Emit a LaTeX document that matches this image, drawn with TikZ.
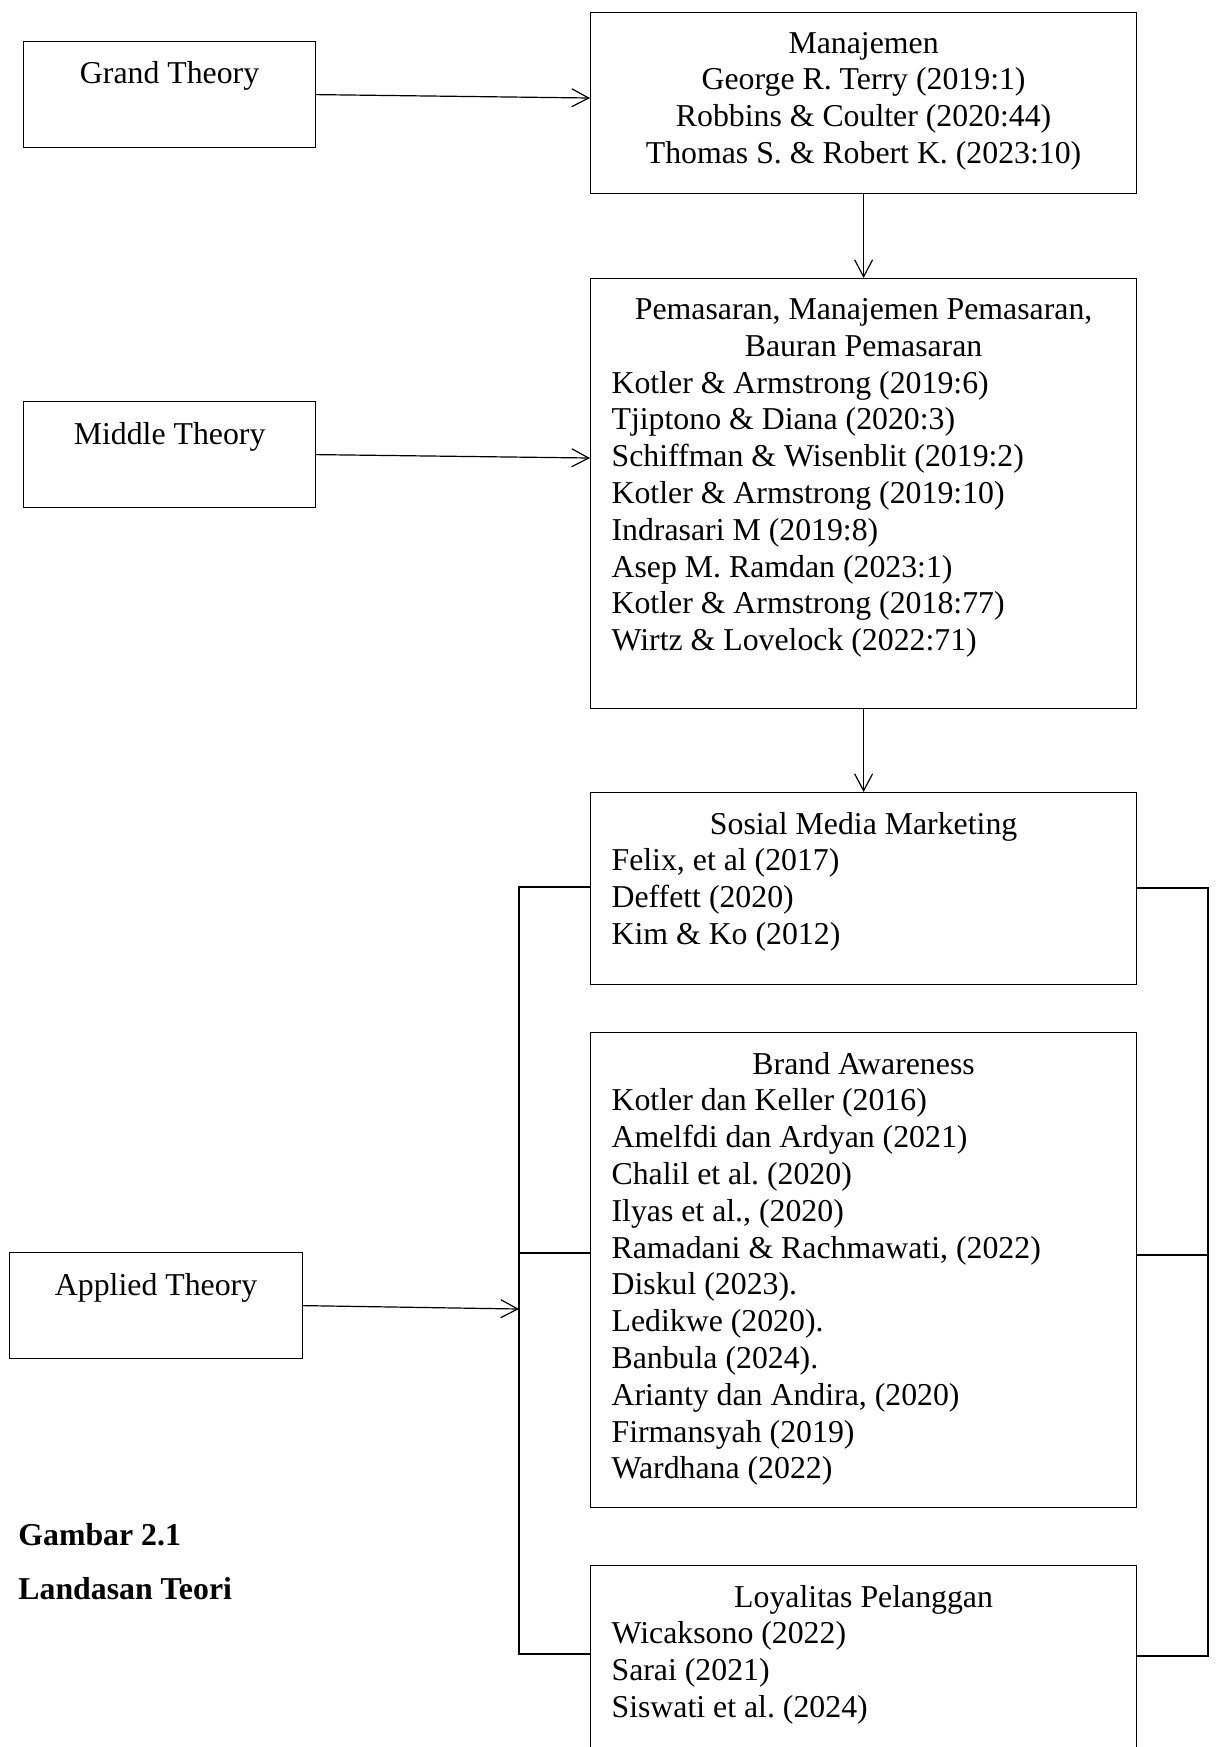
\documentclass[tikz,border=0pt]{standalone}
\usepackage{fontspec}
\setmainfont{Liberation Serif}
\usetikzlibrary{arrows.meta}
\newcommand{\hurufisi}{\fontsize{15.9}{18.4}\selectfont\frenchspacing\spaceskip=0.25em\relax}

\begin{document}
\begin{tikzpicture}[x=0.5pt, y=-0.5pt,
        kotak/.style={draw, line width=0.6pt, inner sep=0pt, anchor=north west},
        judul/.style={anchor=base, inner sep=0pt, font=\hurufisi},
        isi/.style={anchor=base, inner sep=0pt, text width=252pt, align=flush left, font=\hurufisi},
        panah/.style={-{Straight Barb[length=8.5pt,width=9pt]}, line width=0.6pt},
        garis/.style={line width=0.6pt}]
        \useasboundingbox (0,0) rectangle (1216,1747);
        \fill[white] (0,0) rectangle (1216,1747);
        \clip (0,0) rectangle (1216,1747);

        % Kotak teori (kiri)
        \node[kotak, minimum width=146pt, minimum height=53pt] (grand) at (23,41) {};
        \node[kotak, minimum width=146pt, minimum height=53pt] (middle) at (23,401) {};
        \node[kotak, minimum width=146.5pt, minimum height=53pt] (applied) at (9,1252) {};
        \node[judul] (t-grand) at ([yshift=-21pt]grand.north) {Grand Theory};
        \node[judul] (t-middle) at ([yshift=-21.5pt]middle.north) {Middle Theory};
        \node[judul] (t-applied) at ([yshift=-21.5pt]applied.north) {Applied Theory};

        % Kotak referensi (kanan)
        \node[kotak, minimum width=273pt, minimum height=90.5pt] (manaj) at (590,12) {};
        \node[kotak, minimum width=273pt, minimum height=215pt] (pemas) at (590,278) {};
        \node[kotak, minimum width=273pt, minimum height=96pt] (smm) at (590,792) {};
        \node[kotak, minimum width=273pt, minimum height=237.5pt] (brand) at (590,1032) {};
        \node[kotak, minimum width=273pt, minimum height=120pt] (loyal) at (590,1565) {};

        \node[isi] (t-manaj) at ([yshift=-20.5pt]manaj.north) {\centering Manajemen\\
            George R. Terry (2019:1)\\
            Robbins \& Coulter (2020:44)\\
            Thomas S. \& Robert K. (2023:10)\par};
        \node[isi] (t-pemas) at ([yshift=-20.75pt]pemas.north) {{\centering Pemasaran, Manajemen Pemasaran,\\
            Bauran Pemasaran\par}
            Kotler \& Armstrong (2019:6)\\
            Tjiptono \& Diana (2020:3)\\
            Schiffman \& Wisenblit (2019:2)\\
            Kotler \& Armstrong (2019:10)\\
            Indrasari M (2019:8)\\
            Asep M. Ramdan (2023:1)\\
            Kotler \& Armstrong (2018:77)\\
            Wirtz \& Lovelock (2022:71)};
        \node[isi] (t-smm) at ([yshift=-21pt]smm.north) {{\centering Sosial Media Marketing\par}
            Felix, et al (2017)\\
            Deffett (2020)\\
            Kim \& Ko (2012)};
        \node[isi] (t-brand) at ([yshift=-21pt]brand.north) {{\centering Brand Awareness\par}
            Kotler dan Keller (2016)\\
            Amelfdi dan Ardyan (2021)\\
            Chalil et al. (2020)\\
            Ilyas et al., (2020)\\
            Ramadani \& Rachmawati, (2022)\\
            Diskul (2023).\\
            Ledikwe (2020).\\
            Banbula (2024).\\
            Arianty dan Andira, (2020)\\
            Firmansyah (2019)\\
            Wardhana (2022)};
        \node[isi] (t-loyal) at ([yshift=-21pt]loyal.north) {{\centering Loyalitas Pelanggan\par}
            Wicaksono (2022)\\
            Sarai (2021)\\
            Siswati et al. (2024)};

        % Panah
        \coordinate (masuk-manaj) at (590,98);
        \coordinate (masuk-pemas) at (590,458);
        \coordinate (masuk-kiri) at (519,1309);
        \draw[panah] (grand.east) -- (masuk-manaj);
        \draw[panah] (middle.east) -- (masuk-pemas);
        \draw[panah] (applied.east) -- (masuk-kiri);
        \draw[panah] (manaj.south) -- (pemas.north);
        \draw[panah] (pemas.south) -- (smm.north);

        % Garis penghubung kiri dan kanan
        \coordinate (kiri-atas) at (519,887);
        \coordinate (kiri-tengah) at (519,1253);
        \coordinate (kiri-bawah) at (519,1654);
        \coordinate (kanan-atas) at (1208,888);
        \coordinate (kanan-tengah) at (1208,1255);
        \coordinate (kanan-bawah) at (1208,1656);
        \draw[garis] (smm.west |- kiri-atas) -- (kiri-atas) -- (kiri-bawah) -- (loyal.west |- kiri-bawah);
        \draw[garis] (kiri-tengah) -- (brand.west |- kiri-tengah);
        \draw[garis] (smm.east |- kanan-atas) -- (kanan-atas) -- (kanan-bawah) -- (loyal.east |- kanan-bawah);
        \draw[garis] (kanan-tengah) -- (brand.east |- kanan-tengah);

        % Keterangan gambar
        \node[anchor=base west, inner sep=0pt, font=\hurufisi\bfseries] (gambar) at (18,1545) {Gambar 2.1};
        \node[anchor=base west, inner sep=0pt, font=\hurufisi\bfseries] (landasan) at (18,1599) {Landasan Teori};
\end{tikzpicture}
\end{document}
